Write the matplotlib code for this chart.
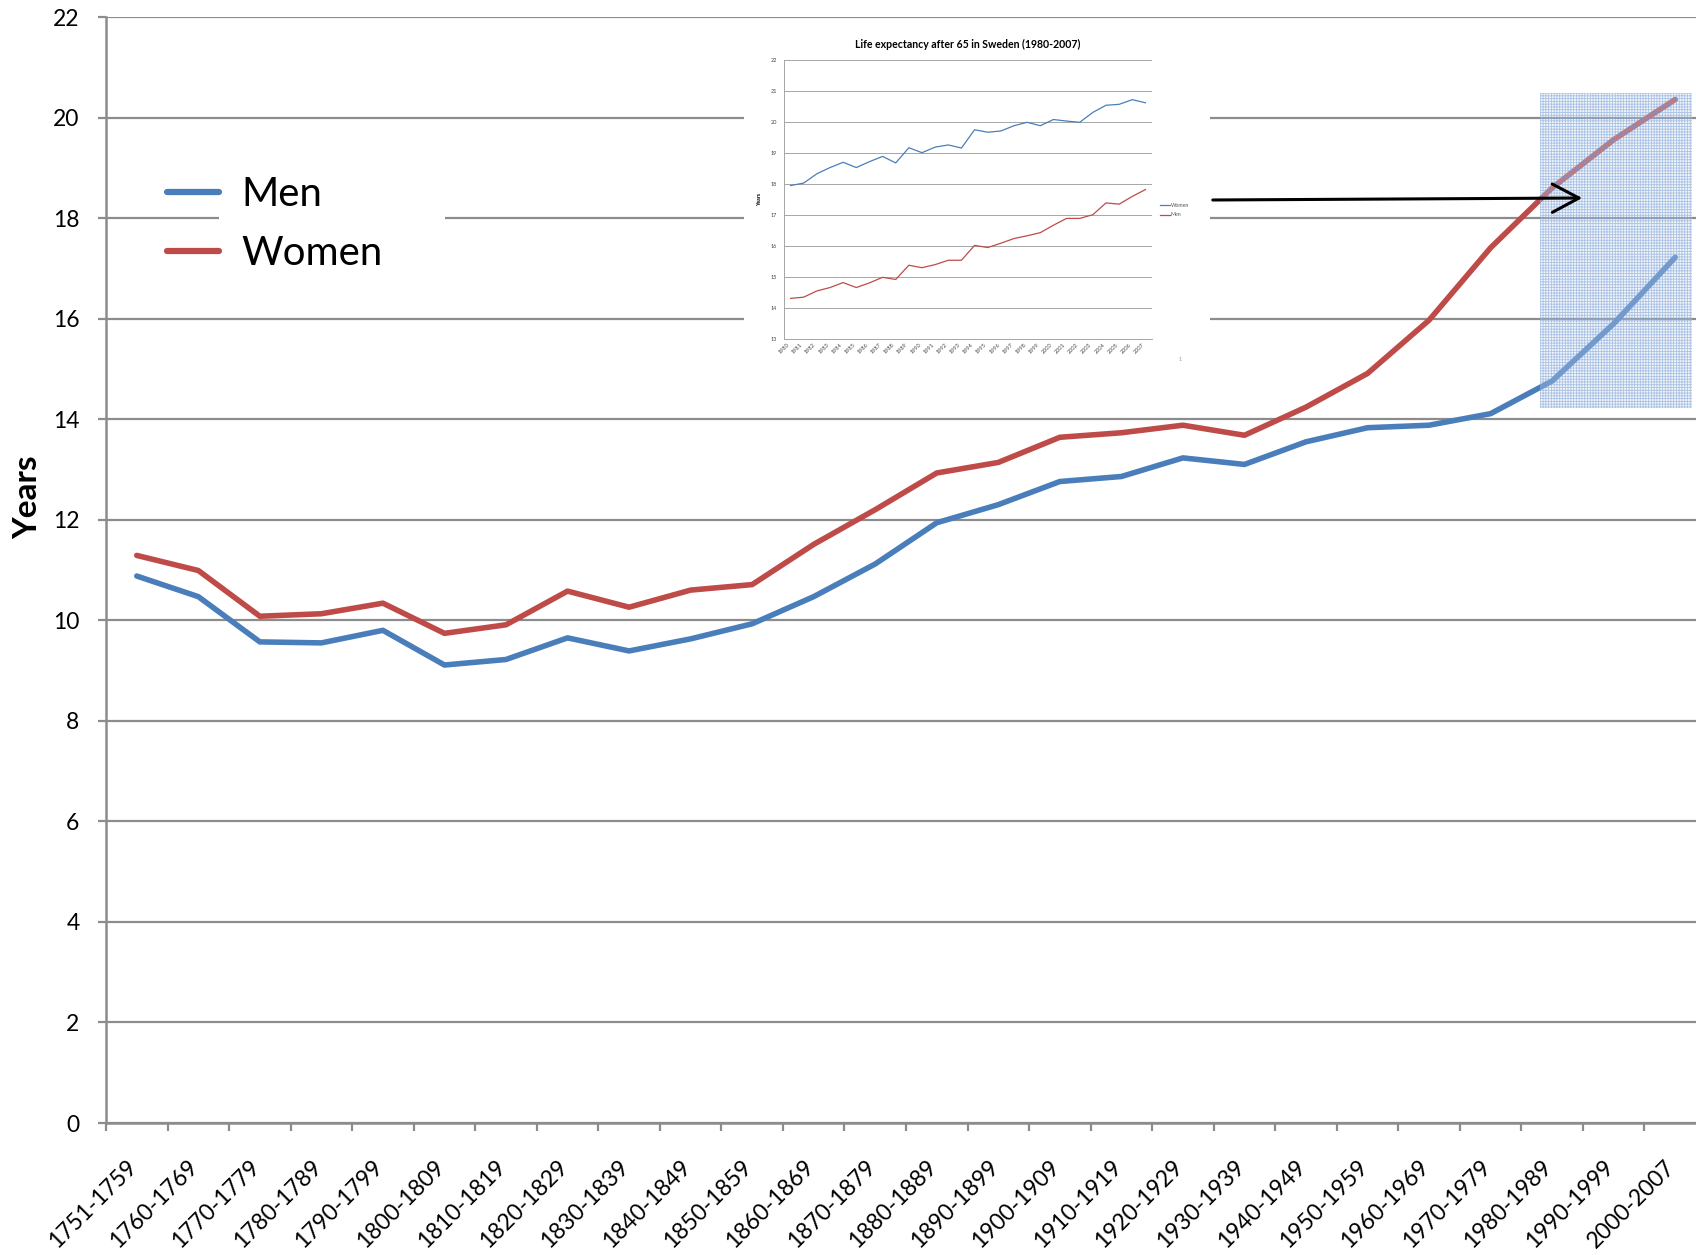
import matplotlib
matplotlib.use("Agg")
import matplotlib.pyplot as plt
import matplotlib.transforms as mtransforms
from matplotlib.patches import Rectangle, FancyArrowPatch
from matplotlib.ticker import FixedLocator

plt.rcParams['font.family'] = ['Lato', 'DejaVu Sans']

# ---------------- data ----------------
periods = ["1751-1759", "1760-1769", "1770-1779", "1780-1789", "1790-1799",
           "1800-1809", "1810-1819", "1820-1829", "1830-1839", "1840-1849",
           "1850-1859", "1860-1869", "1870-1879", "1880-1889", "1890-1899",
           "1900-1909", "1910-1919", "1920-1929", "1930-1939", "1940-1949",
           "1950-1959", "1960-1969", "1970-1979", "1980-1989", "1990-1999",
           "2000-2007"]
men = [10.88, 10.47, 9.57, 9.55, 9.80, 9.11, 9.22, 9.65, 9.39, 9.63,
       9.93, 10.47, 11.12, 11.94, 12.30, 12.76, 12.86, 13.23, 13.10, 13.55,
       13.83, 13.88, 14.11, 14.76, 15.90, 17.22]
women = [11.29, 10.99, 10.08, 10.13, 10.34, 9.74, 9.91, 10.58, 10.26, 10.60,
         10.71, 11.51, 12.20, 12.93, 13.14, 13.64, 13.73, 13.88, 13.68, 14.24,
         14.91, 15.97, 17.41, 18.60, 19.56, 20.36]
y_ticks = list(range(0, 23, 2))

inset_years = [str(y) for y in range(1980, 2008)]
inset_blue = [17.95, 18.03, 18.33, 18.53, 18.70, 18.53, 18.72, 18.89, 18.68, 19.17,
              19.01, 19.19, 19.26, 19.16, 19.75, 19.67, 19.71, 19.88, 19.99, 19.88,
              20.08, 20.03, 19.99, 20.31, 20.54, 20.57, 20.72, 20.62]
inset_red = [14.31, 14.35, 14.55, 14.66, 14.82, 14.66, 14.81, 14.99, 14.92, 15.38,
             15.30, 15.40, 15.54, 15.54, 16.02, 15.95, 16.09, 16.24, 16.33, 16.43,
             16.67, 16.89, 16.89, 17.01, 17.39, 17.35, 17.60, 17.82]
inset_y_ticks = list(range(13, 23))

# ---------------- figure ----------------
W, H = 1696, 1255
fig = plt.figure(figsize=(W / 100, H / 100), dpi=100)
fig.patch.set_facecolor('white')

def fx(px):
    return px / W

def fy(py):
    return 1 - py / H

BLUE = '#4a7ebb'
RED = '#be4b48'
GRID = '#8c8c8c'

# main axes (extends slightly past right edge like the original)
left, right, top, bottom = 106, 1706, 17, 1123
ax = fig.add_axes([fx(left), fy(bottom), (right - left) / W, (bottom - top) / H])
x = list(range(len(periods)))
ax.plot(x, men, color=BLUE, lw=4.0, solid_capstyle='round', zorder=3, label='Men')
ax.plot(x, women, color=RED, lw=4.0, solid_capstyle='round', zorder=3, label='Women')

ax.set_xlim(-0.5, len(periods) - 0.5)
ax.set_ylim(0, 22)
ax.set_yticks(y_ticks)
ax.yaxis.grid(True, color=GRID, lw=1.6)
ax.set_axisbelow(True)
for s in ['top', 'right']:
    ax.spines[s].set_visible(False)
for s in ['left', 'bottom']:
    ax.spines[s].set_color(GRID)
    ax.spines[s].set_linewidth(1.8)

ax.set_xticks(x)
ax.set_xticklabels(periods, rotation=45, ha='right', va='top', fontsize=16.5)
ax.tick_params(axis='x', which='major', length=0, pad=24)
ax.xaxis.set_minor_locator(FixedLocator([i - 0.5 for i in range(len(periods) + 1)]))
ax.tick_params(axis='x', which='minor', length=6, width=1.6, color=GRID)
ax.tick_params(axis='y', length=6, width=1.6, color=GRID, labelsize=16.5, pad=13)
off = mtransforms.ScaledTranslation(4 / 100, 0, fig.dpi_scale_trans)
for lab in ax.get_xticklabels():
    lab.set_transform(lab.get_transform() + off)

fig.text(fx(28), fy(497), 'Years', rotation=90, fontsize=24, fontweight='bold',
         ha='center', va='center')

# white block behind legend
ax.add_patch(Rectangle((fx(219), fy(295)), fx(445) - fx(219), fy(140) - fy(295),
                       transform=fig.transFigure, facecolor='white', edgecolor='none',
                       zorder=1.5, clip_on=False))
leg = ax.legend(loc='upper left', bbox_to_anchor=(fx(167), fy(176)),
                bbox_transform=fig.transFigure, frameon=False, fontsize=29,
                handlelength=1.3, handletextpad=0.55, labelspacing=0.55,
                borderpad=0, borderaxespad=0)
for h in leg.get_lines():
    h.set_linewidth(4.5)
    h.set_solid_capstyle('round')

# ---------------- inset chart ----------------
# white background of the pasted picture
ax.add_patch(Rectangle((fx(744), fy(380)), fx(1210) - fx(744), fy(25) - fy(380),
                       transform=fig.transFigure, facecolor='white', edgecolor='none',
                       zorder=1.5, clip_on=False))

il, ir, it, ib = 784, 1152, 60, 339
ax2 = fig.add_axes([fx(il), fy(ib), (ir - il) / W, (ib - it) / H], zorder=3)
ax2.patch.set_alpha(0)
xi = list(range(len(inset_years)))
ax2.plot(xi, inset_blue, color=BLUE, lw=0.9, label='Women')
ax2.plot(xi, inset_red, color=RED, lw=0.9, label='Men')
ax2.set_xlim(-0.5, len(inset_years) - 0.5)
ax2.set_ylim(13, 22)
ax2.set_yticks(inset_y_ticks)
ax2.yaxis.grid(True, color='#a6a6a6', lw=0.7)
ax2.set_axisbelow(True)
for s in ['top', 'right']:
    ax2.spines[s].set_visible(False)
for s in ['left', 'bottom']:
    ax2.spines[s].set_color('#a6a6a6')
    ax2.spines[s].set_linewidth(0.7)
ax2.set_xticks(xi)
ax2.set_xticklabels(inset_years, rotation=45, ha='right', va='top', fontsize=4,
                    color='#444444')
ax2.tick_params(axis='x', length=0, pad=2)
ax2.tick_params(axis='y', length=0, pad=5, labelsize=4, labelcolor='#444444')
ax2.set_ylabel('Years', fontsize=3.8, fontweight='bold', labelpad=6)
ax2.set_title('Life expectancy after 65 in Sweden (1980-2007)', fontsize=7.6,
              fontweight='bold', pad=9)
leg2 = ax2.legend(loc='center left', bbox_to_anchor=(fx(1160), fy(210)),
                  bbox_transform=fig.transFigure, frameon=False, fontsize=3.8,
                  handlelength=1.9, handletextpad=0.1, labelspacing=0.9,
                  borderpad=0, borderaxespad=0, labelcolor='#555555')
fig.text(fx(1180), fy(359), '1', fontsize=4, color='#999999', ha='center', va='center')

# ---------------- hatched highlight + arrow ----------------
plt.rcParams['hatch.color'] = '#7fa4d6'
plt.rcParams['hatch.linewidth'] = 0.6
hrect = Rectangle((fx(1540), fy(408)), fx(1692) - fx(1540), fy(93) - fy(408),
                  transform=fig.transFigure, facecolor=(0.82, 0.88, 0.95, 0.3),
                  edgecolor=(0.45, 0.60, 0.82, 0.55), hatch='++++++', lw=0, zorder=10)
fig.add_artist(hrect)

arrow = FancyArrowPatch((fx(1210), fy(200)), (fx(1585), fy(198)),
                        transform=fig.transFigure,
                        arrowstyle='->,head_length=1.6,head_width=0.85',
                        color='black', lw=2.2, mutation_scale=12, zorder=11)
fig.add_artist(arrow)

fig.savefig('out.png', dpi=100)
